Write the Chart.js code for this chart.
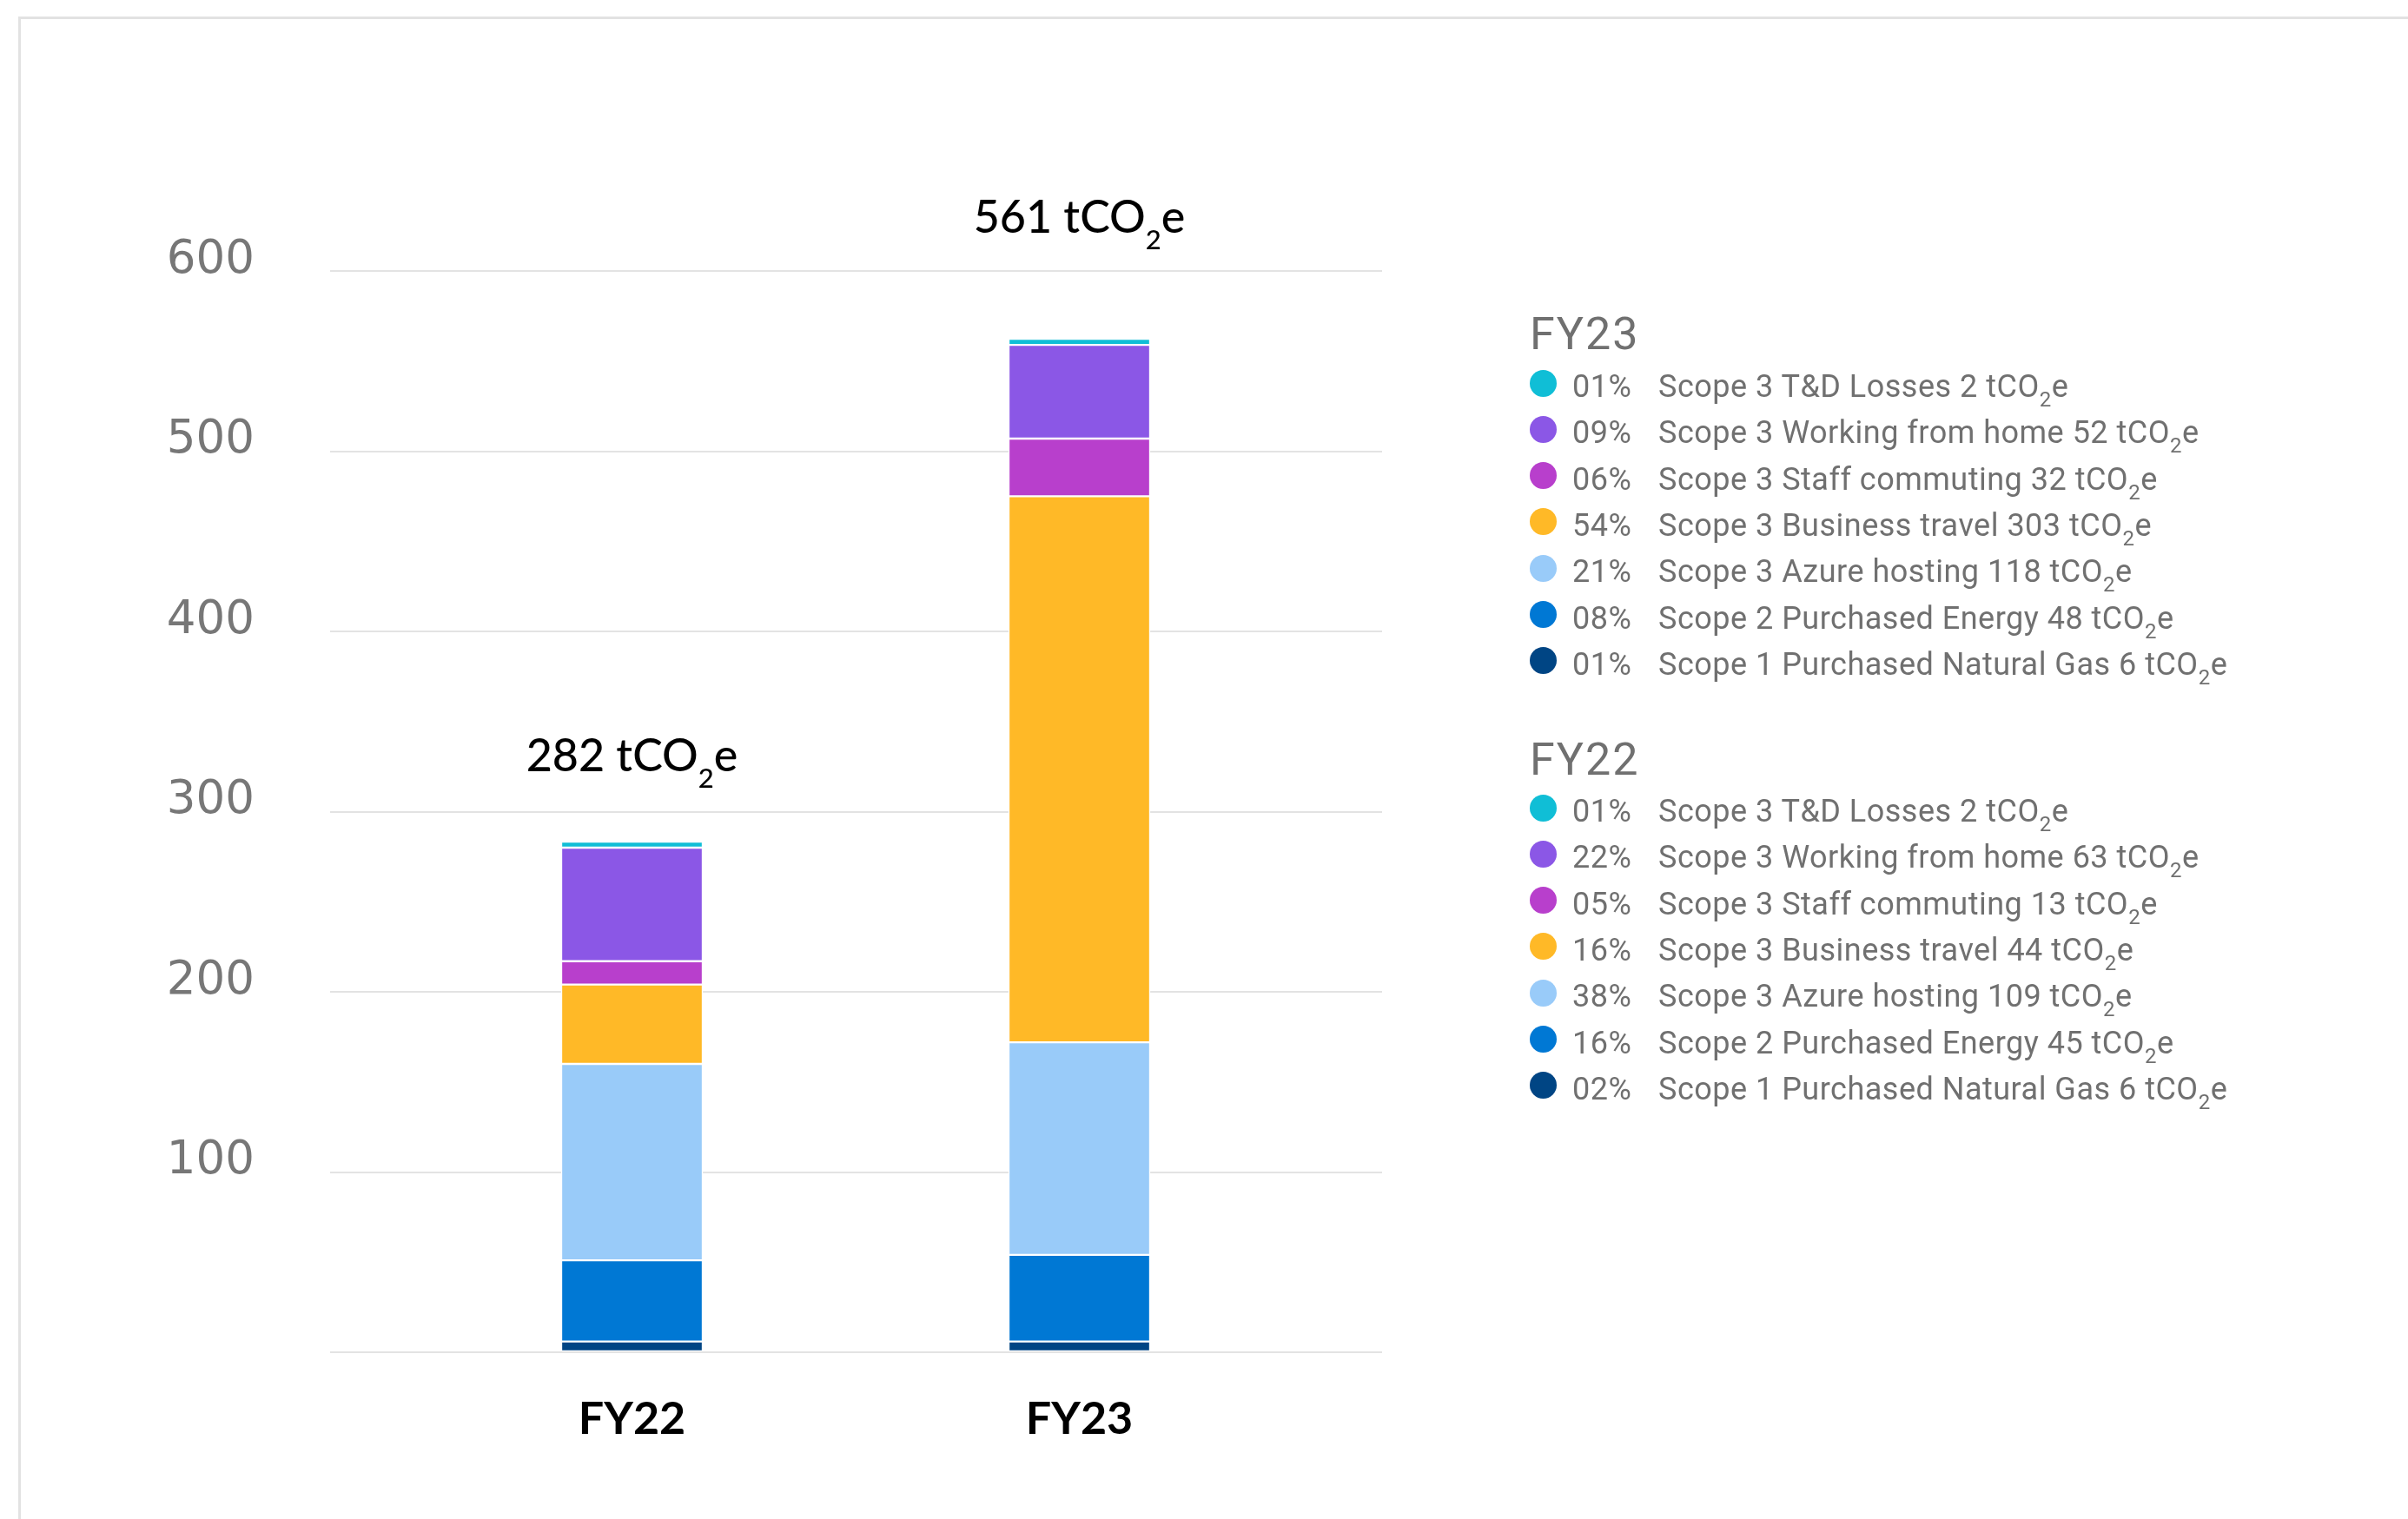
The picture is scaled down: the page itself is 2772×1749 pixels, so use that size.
<!DOCTYPE html>
<html>
<head>
<meta charset="utf-8">
<script src="https://cdn.jsdelivr.net/npm/chart.js@4/dist/chart.umd.min.js"></script>
<style>
  html, body { margin: 0; padding: 0; background: #fff; overflow: hidden; }
  #wrap { position: relative; width: 2772px; height: 1749px; }
  #frame { position: absolute; left: 21px; top: 19px; right: 0; bottom: 0;
           border-top: 3px solid #e2e2e2; border-left: 3px solid #e2e2e2; }
  #chart { position: absolute; left: 0; top: 0; }
  .leg { position: absolute; font-family: Roboto, "Noto Sans", sans-serif; color: #707070; white-space: nowrap; }
  .leg-title { font-size: 52px; line-height: 60px; letter-spacing: 2px; }
  .leg-row { font-size: 36px; line-height: 53px; letter-spacing: 0.5px; }
  .dot { position: absolute; width: 31px; height: 31px; border-radius: 50%; }
  .sub { font-size: 24px; position: relative; top: 11px; }
</style>
</head>
<body>
<div id="wrap">
  <div id="frame"></div>
  <canvas id="chart" width="2772" height="1749"></canvas>
  <div id="legend"></div>
</div>
<script>
// emissions by source, bottom of the stack first
var years = ['FY22', 'FY23'];
var sources = [
  'Scope 1 Purchased Natural Gas',
  'Scope 2 Purchased Energy',
  'Scope 3 Azure hosting',
  'Scope 3 Business travel',
  'Scope 3 Staff commuting',
  'Scope 3 Working from home',
  'Scope 3 T&D Losses'
];
var fy22 = [6, 45, 109, 44, 13, 63, 2];
var fy23 = [6, 48, 118, 303, 32, 52, 2];
var fy22Pct = ['02', '16', '38', '16', '05', '22', '01'];
var fy23Pct = ['01', '08', '21', '54', '06', '09', '01'];

var colores = ['#004584', '#0078D4', '#99CBF9', '#FFB927', '#B83FCC', '#8B57E6', '#10BED6'];

var gridColor = '#e3e3e3';

var datasets = sources.map(function (s, i) {
  return {
    label: s,
    data: [fy22[i], fy23[i]],
    backgroundColor: colores[i],
    borderColor: '#ffffff',
    borderWidth: 1.5,
    borderSkipped: false,
    barThickness: 163,
    minBarLength: i == sources.length - 1 ? 7 : 0
  };
});

// total above each stack: "282 tCO2e"
var totalsPlugin = {
  id: 'totals',
  afterDatasetsDraw: function (chart) {
    var ctx = chart.ctx;
    var xs = chart.scales.x, ys = chart.scales.y;
    var tope = ys.getPixelForValue(600);
    years.forEach(function (yr, i) {
      var total = 0;
      chart.data.datasets.forEach(function (ds) { total += ds.data[i]; });
      var x = xs.getPixelForValue(i);
      var base = ys.getPixelForValue(total) - 84;
      // too close to the top gridline: sit above it instead
      if (base > tope - 44 && base - 40 < tope + 10) base = tope - 44;
      var main = total + ' tCO', sub = '2', tail = 'e';
      ctx.save();
      ctx.fillStyle = '#000';
      ctx.textBaseline = 'alphabetic';
      ctx.textAlign = 'left';
      ctx.font = '500 52px Lato';
      var w1 = ctx.measureText(main).width;
      var w3 = ctx.measureText(tail).width;
      ctx.font = '500 31px Lato';
      var w2 = ctx.measureText(sub).width;
      var left = x - (w1 + w2 + w3) / 2;
      ctx.font = '500 52px Lato';
      ctx.fillText(main, left, base);
      ctx.fillText(tail, left + w1 + w2, base);
      ctx.font = '500 31px Lato';
      ctx.fillText(sub, left + w1, base + 19);
      ctx.restore();
    });
  }
};

var grafico = new Chart(document.getElementById('chart').getContext('2d'), {
  type: 'bar',
  data: { labels: years, datasets: datasets },
  options: {
    responsive: false,
    animation: false,
    layout: { padding: { left: 120, right: 1181, top: 312, bottom: 0 } },
    plugins: { legend: { display: false }, tooltip: { enabled: false } },
    scales: {
      x: {
        stacked: true,
        grid: { display: false },
        border: { display: false },
        ticks: { color: '#000', padding: 38, font: { family: 'Lato', size: 52, weight: 'bold' } },
        afterFit: function (s) { s.height = 192; }
      },
      y: {
        stacked: true,
        min: 0,
        max: 600,
        border: { display: false },
        grid: { color: gridColor, lineWidth: 2, tickLength: 90, tickColor: gridColor },
        ticks: {
          stepSize: 100,
          padding: 87,
          labelOffset: -12,
          color: '#777777',
          font: { family: 'DejaVu Sans', size: 53 },
          callback: function (v) { return v === 0 ? '' : v; }
        },
        afterFit: function (s) { s.width = 350; }
      },
      y2: {
        position: 'right',
        min: 0,
        max: 600,
        border: { display: false },
        grid: { drawOnChartArea: false, color: gridColor, lineWidth: 2, tickLength: 91, tickColor: gridColor },
        ticks: { display: false, stepSize: 100 }
      }
    }
  },
  plugins: [totalsPlugin]
});

// legend, one block per year, top of the stack listed first
function bloqueLeyenda(titulo, valores, pct, tituloTop, filaTop) {
  var cont = document.getElementById('legend');
  var h = document.createElement('div');
  h.className = 'leg leg-title';
  h.style.left = '1761px';
  h.style.top = tituloTop + 'px';
  h.textContent = titulo;
  cont.appendChild(h);
  var orden = sources.map(function (s, i) { return i; }).reverse();
  orden.forEach(function (idx, k) {
    var centro = filaTop + k * 53.3;
    var dot = document.createElement('div');
    dot.className = 'dot';
    dot.style.background = colores[idx];
    dot.style.left = (1776 - 15.5) + 'px';
    dot.style.top = (centro - 15.5) + 'px';
    cont.appendChild(dot);

    var p = document.createElement('div');
    p.className = 'leg leg-row';
    p.style.left = '1810px';
    p.style.top = (centro - 22) + 'px';
    p.textContent = pct[idx] + '%';
    cont.appendChild(p);

    var t = document.createElement('div');
    t.className = 'leg leg-row';
    t.style.left = '1909px';
    t.style.top = (centro - 22) + 'px';
    t.appendChild(document.createTextNode(sources[idx] + ' ' + valores[idx] + ' tCO'));
    var sb = document.createElement('span');
    sb.className = 'sub';
    sb.textContent = '2';
    t.appendChild(sb);
    t.appendChild(document.createTextNode('e'));
    cont.appendChild(t);
  });
}

bloqueLeyenda('FY23', fy23, fy23Pct, 355, 441);
bloqueLeyenda('FY22', fy22, fy22Pct, 845, 930);
</script>
</body>
</html>
